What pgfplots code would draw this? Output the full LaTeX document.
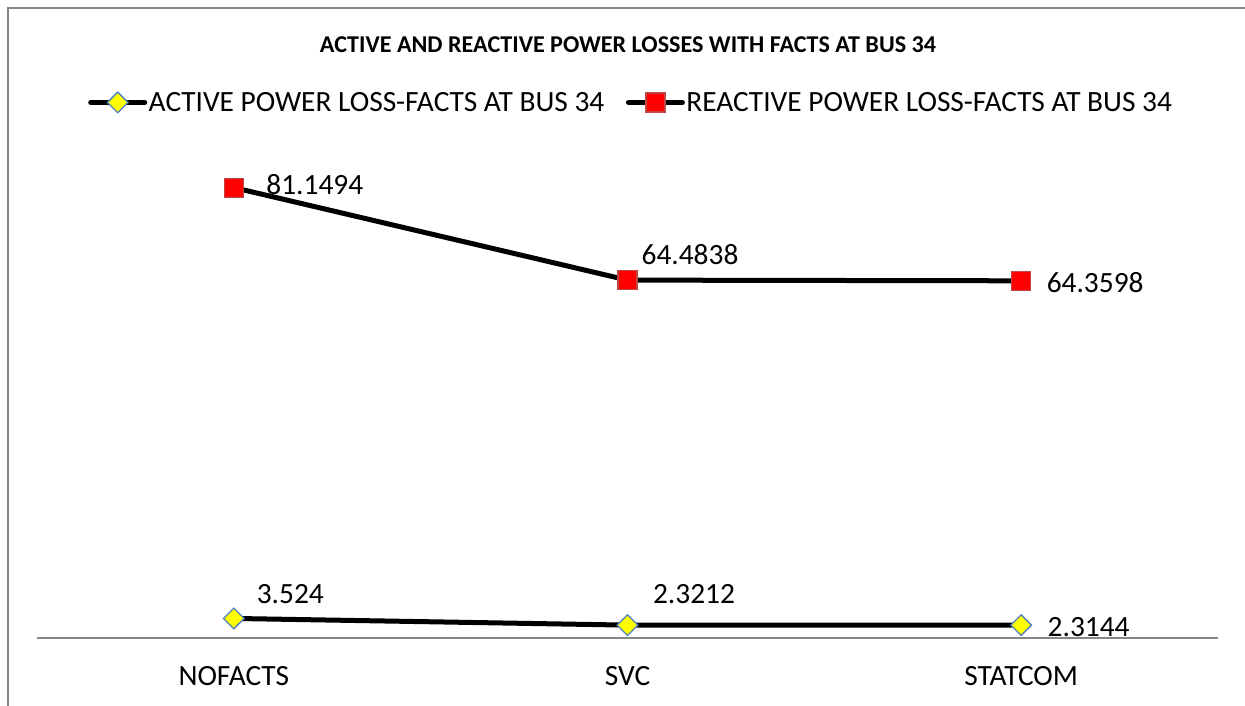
\documentclass[border=0pt]{standalone}
\usepackage{pgfplots}
\pgfplotsset{compat=1.18}
\usepackage{fontspec}
\setmainfont{Carlito}
\definecolor{redfill}{RGB}{255,0,0}
\definecolor{redborder}{RGB}{192,70,70}
\definecolor{yel}{RGB}{255,255,0}
\definecolor{blueborder}{RGB}{79,129,189}
\definecolor{axgray}{RGB}{134,134,134}
\begin{document}
\begin{tikzpicture}
\useasboundingbox (0,0) rectangle (1245bp,706bp);
\draw[axgray, line width=1.3bp] (8bp,0bp) -- (8bp,698bp) -- (1245bp,698bp);
\node[font=\bfseries\fontsize{24.2}{28}\selectfont] at (628bp,661bp) {ACTIVE AND REACTIVE POWER LOSSES WITH FACTS AT BUS 34};
\begin{axis}[
  at={(37bp,68bp)}, anchor=south west,
  scale only axis, width=1181bp, height=499.5bp,
  xmin=-0.5, xmax=2.5, ymin=0, ymax=90,
  axis x line=bottom, axis y line=none,
  axis line style={-, axgray, line width=1.2bp},
  xtick={0,1,2}, xticklabels={NOFACTS,SVC,STATCOM},
  major tick length=0pt,
  xticklabel style={font=\fontsize{29.5}{35}\selectfont, anchor=center, yshift=-38bp, text=black},
  ytick=\empty,
  clip=false,
  legend columns=2,
  legend style={at={(0.0432,1.0722)}, anchor=west, draw=none, fill=none,
    font=\fontsize{29.5}{35}\selectfont, inner sep=0pt,
    /tikz/every even column/.append style={column sep=20bp},
    nodes={inner sep=1.5bp}},
  legend image code/.code={\draw[mark repeat=2,mark phase=2,#1] plot coordinates {(0bp,0bp) (27bp,0bp) (54bp,0bp)};},
]
\addplot[black, line width=5bp, line cap=round, mark=square*, mark size=7.3bp,
  mark options={solid, rotate=45, fill=yel, draw=blueborder, line width=1.3bp}]
  coordinates {(0,3.524) (1,2.3212) (2,2.3144)};
\addlegendentry{ACTIVE POWER LOSS-FACTS AT BUS 34}
\addplot[black, line width=5bp, line cap=round, mark=square*, mark size=9.5bp,
  mark options={solid, fill=redfill, draw=redborder, line width=1.2bp}]
  coordinates {(0,81.1494) (1,64.4838) (2,64.3598)};
\addlegendentry{REACTIVE POWER LOSS-FACTS AT BUS 34}
\begin{scope}[every node/.style={font=\fontsize{29.5}{35}\selectfont, inner sep=0pt}]
\node[xshift=81bp, yshift=3.5bp] at (axis cs:0,81.1494) {81.1494};
\node[xshift=62.5bp, yshift=26bp] at (axis cs:1,64.4838) {64.4838};
\node[xshift=74bp, yshift=-2bp] at (axis cs:2,64.3598) {64.3598};
\node[xshift=56.5bp, yshift=24bp] at (axis cs:0,3.524) {3.524};
\node[xshift=66.5bp, yshift=31bp] at (axis cs:1,2.3212) {2.3212};
\node[xshift=67.5bp, yshift=-2bp] at (axis cs:2,2.3144) {2.3144};
\end{scope}
\end{axis}
\end{tikzpicture}
\end{document}
